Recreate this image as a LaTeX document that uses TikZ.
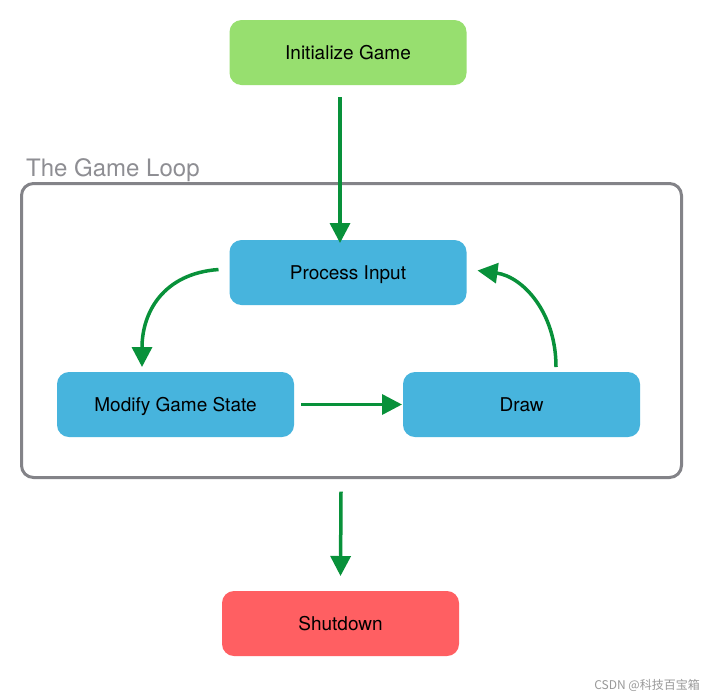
\documentclass[tikz,border=0pt]{standalone}
\usepackage{fontspec}
\setmainfont{TeX Gyre Heros}
\newfontfamily\cjk{Noto Sans CJK SC}
\usetikzlibrary{arrows.meta}
\definecolor{initgreen}{HTML}{97DF6F}
\definecolor{stepblue}{HTML}{47B4DD}
\definecolor{shutred}{HTML}{FF5F62}
\definecolor{arrgreen}{HTML}{08913A}
\definecolor{loopgray}{HTML}{838388}
\definecolor{labelgray}{HTML}{8E8E93}
\begin{document}
\begin{tikzpicture}[x=1pt,y=-1pt,
  box/.style={rounded corners=12pt, minimum width=237pt, minimum height=65pt,
    inner sep=0pt, outer sep=0pt, text height=13.6pt, text depth=0pt,
    font=\fontsize{19}{22}\selectfont},
  arr/.style={draw=arrgreen, line width=3.5pt, -{Triangle[length=20pt,width=20pt]}},
  loopbox/.style={draw=loopgray, line width=3pt, rounded corners=12pt,
    minimum width=660pt, minimum height=294pt, inner sep=0pt, outer sep=0pt}]
\useasboundingbox[fill=white] (0,0) rectangle (711,697);
\node[loopbox] (loop) at (351.5,330.5) {};
\node[anchor=base west, text=labelgray, font=\fontsize{24}{28}\selectfont, inner sep=0pt] (looplabel) at (26,176) {The Game Loop};
\node[box, fill=initgreen] (init) at (348,52.5) {Initialize Game};
\node[box, fill=stepblue] (proc) at (348,272.5) {Process Input};
\node[box, fill=stepblue] (mod) at (175.5,404.5) {Modify Game State};
\node[box, fill=stepblue] (draw) at (521.5,404.5) {Draw};
\node[box, fill=shutred] (shut) at (340.5,623.5) {Shutdown};
\draw[arr] ([xshift=-8pt,yshift=-12pt]init.south) -- ([xshift=-8pt,yshift=-3pt]proc.north);
\draw[arr] ([xshift=-11pt,yshift=3pt]proc.west) .. controls +(-55,4) and +(0,-55) .. ([xshift=-33.5pt,yshift=5pt]mod.north);
\draw[arr] ([xshift=7pt]mod.east) -- ([xshift=-1pt]draw.west);
\draw[arr] ([xshift=34.5pt,yshift=5pt]draw.north) .. controls +(0,-55) and +(45,6) .. ([xshift=11pt,yshift=2pt]proc.east);
\draw[arr] ([xshift=-10.5pt,yshift=-14pt]loop.south) -- ([yshift=15pt]shut.north);
\node[anchor=base east, text=black!40, font=\cjk\fontsize{12}{14}\selectfont, inner sep=0pt] (wm) at (700,689) {CSDN @科技百宝箱};
\end{tikzpicture}
\end{document}
